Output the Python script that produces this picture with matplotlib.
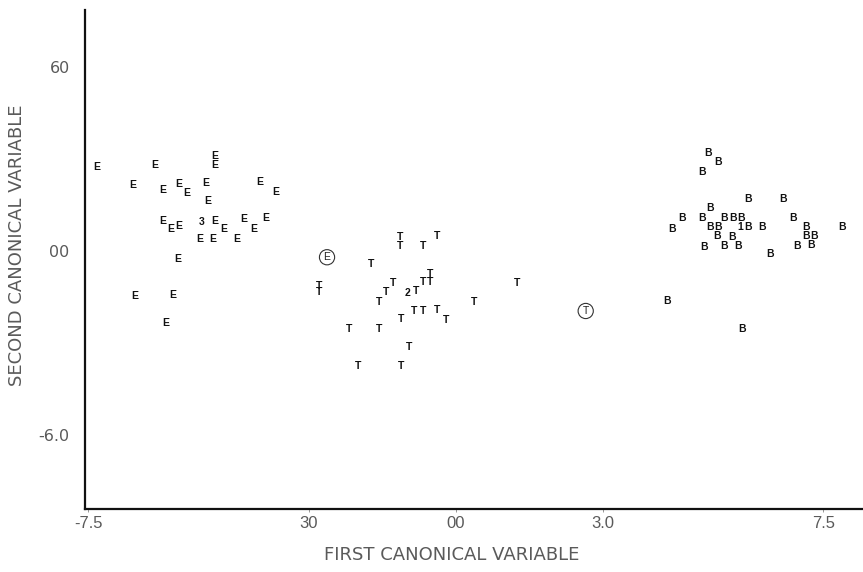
import matplotlib
matplotlib.use('Agg')
import matplotlib.pyplot as plt

plt.rcParams['font.family'] = ['Liberation Sans', 'DejaVu Sans']

# group E
e_x = [-7.33, -6.59, -6.14, -5.98, -5.65, -5.49, -5.10, -5.06, -4.92, -4.92, -4.00, -3.67,
       -5.98, -5.82, -5.65, -4.92, -4.73, -4.33, -3.88, -4.12, -5.22, -4.96, -4.47,
       -5.67, -6.55, -5.78, -5.92]
e_y = [2.74, 2.15, 2.80, 1.99, 2.18, 1.89, 2.21, 1.63, 3.09, 2.80, 2.25, 1.92,
       0.98, 0.72, 0.81, 0.98, 0.72, 1.04, 1.07, 0.72, 0.39, 0.39, 0.39,
       -0.26, -1.47, -1.43, -2.35]

# group T
t_x = [-1.73, -1.14, -1.14, -0.67, -0.39, -2.80, -2.80, -1.29, -1.43, -0.82, -0.67, -0.53,
       -0.53, 1.24, -1.57, 0.37, -0.86, -0.67, -0.39, -0.20, -1.12, -2.18, -1.57, -0.96,
       -2.00, -1.12]
t_y = [-0.42, 0.46, 0.16, 0.16, 0.49, -1.14, -1.34, -1.04, -1.34, -1.30, -1.01, -1.01,
       -0.75, -1.04, -1.66, -1.66, -1.95, -1.95, -1.92, -2.25, -2.21, -2.54, -2.54, -3.13,
       -3.75, -3.75]

# group B
b_x = [5.14, 5.35, 5.02, 5.96, 6.67, 5.18, 4.61, 5.02, 5.47, 5.65, 5.82, 6.88,
       4.41, 5.18, 5.35, 5.96, 6.24, 7.14, 7.88, 5.33, 5.63, 7.14, 7.31,
       5.06, 5.47, 5.76, 6.96, 7.24, 6.41, 4.31, 5.84]
b_y = [3.19, 2.90, 2.57, 1.69, 1.69, 1.40, 1.07, 1.07, 1.07, 1.07, 1.07, 1.07,
       0.72, 0.78, 0.78, 0.78, 0.78, 0.78, 0.78, 0.49, 0.46, 0.49, 0.49,
       0.13, 0.16, 0.16, 0.16, 0.20, -0.10, -1.63, -2.54]

# overlap counts
count_labels = ['3', '2', '1']
count_x = [-5.18, -0.98, 5.80]
count_y = [0.94, -1.37, 0.78]

# circled group markers
circ_labels = ['E', 'T']
circ_x = [-2.63, 2.65]
circ_y = [-0.20, -1.95]

xticks = [-7.5, -3.0, 0.0, 3.0, 7.5]
xtick_labels = ['-7.5', '30', '00', '3.0', '7.5']
yticks = [6.0, 0.0, -6.0]
ytick_labels = ['60', '00', '-6.0']

fig = plt.figure(figsize=(8.63, 5.72), dpi=100)
ax = fig.add_axes([0.0985, 0.110, 0.9015, 0.8725])
ax.set_xlim(-7.57, 8.31)
ax.set_ylim(-8.40, 7.85)

mk = dict(ha='center', va='center', fontsize=7.5, color='#111111', fontweight='bold')
for x, y in zip(e_x, e_y):
    ax.text(x, y, 'E', **mk)
for x, y in zip(t_x, t_y):
    ax.text(x, y, 'T', **mk)
for x, y in zip(b_x, b_y):
    ax.text(x, y, 'B', **mk)
for lab, x, y in zip(count_labels, count_x, count_y):
    ax.text(x, y, lab, **mk)
for lab, x, y in zip(circ_labels, circ_x, circ_y):
    ax.text(x, y, lab, ha='center', va='center', fontsize=7.5, color='#222222',
            bbox=dict(boxstyle='circle,pad=0.25', fc='none', ec='#333333', lw=0.8))

for s in ['top', 'right']:
    ax.spines[s].set_visible(False)
for s in ['left', 'bottom']:
    ax.spines[s].set_linewidth(1.6)
    ax.spines[s].set_color('#111111')

ax.set_xticks(xticks)
ax.set_xticklabels(xtick_labels, fontfamily='Liberation Sans')
ax.set_yticks(yticks)
ax.set_yticklabels(ytick_labels, fontfamily='DejaVu Sans')
ax.tick_params(axis='x', length=2, width=0.6, pad=3, labelsize=12, labelcolor='#5a5a5a', color='#888888')
ax.tick_params(axis='y', length=0, pad=11, labelsize=11.5, labelcolor='#5a5a5a')

lab_kw = dict(fontsize=13, color='#5a5a5a', fontfamily='DejaVu Sans')
fig.text(0.523, 0.014, 'FIRST CANONICAL VARIABLE', ha='center', va='bottom', **lab_kw)
fig.text(0.020, 0.571, 'SECOND CANONICAL VARIABLE', ha='center', va='center',
         rotation=90, **lab_kw)

fig.savefig('out.png', dpi=100, facecolor='white')
